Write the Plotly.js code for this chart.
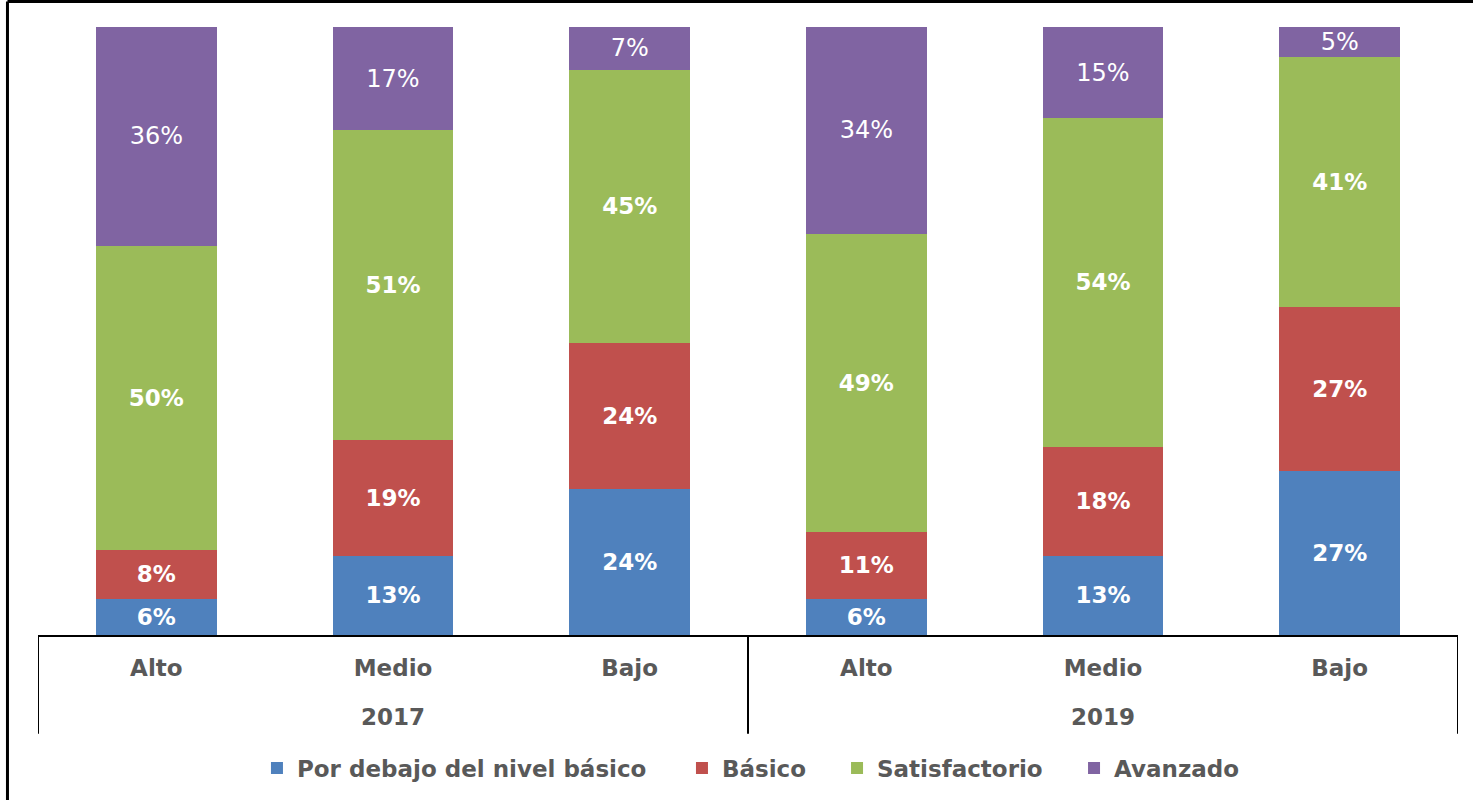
<!DOCTYPE html>
<html>
<head>
<meta charset="utf-8">
<script src="https://cdn.plot.ly/plotly-3.0.1.min.js"></script>
<style>html,body{margin:0;padding:0;background:#fff;}#chart{width:1473px;height:800px;}</style>
</head>
<body>
<div id="chart"></div>
<script>
const years = ["2017","2017","2017","2019","2019","2019"];
const levels = ["Alto","Medio","Bajo","Alto","Medio","Bajo"];
const seriesNames = ["Por debajo del nivel básico","Básico","Satisfactorio","Avanzado"];
const porDebajo = [6, 13, 24, 6, 13, 27];
const basico = [8, 19, 24, 11, 18, 27];
const satisfactorio = [50, 51, 45, 49, 54, 41];
const avanzado = [36, 17, 7, 34, 15, 5];
const colors = ["#4F81BD","#C0504D","#9BBB59","#8064A2"];
const labelWeights = ["bold","bold","bold","normal"];
const labelSizes = [23, 23, 23, 24];
const legendIds = ["legend","legend2","legend3","legend4"];
const legendX = [0.1542, 0.4535, 0.5627, 0.7296];

// unique category keys built from the two levels
const cats = years.map((y, i) => y + " " + levels[i]);
const seriesValues = [porDebajo, basico, satisfactorio, avanzado];
const traces = seriesValues.map((vals, i) => ({
  type: "bar",
  name: seriesNames[i],
  legend: legendIds[i],
  x: cats,
  y: vals,
  marker: {color: colors[i], line: {width: 0}},
  text: vals.map(v => v + "%"),
  textposition: "inside",
  insidetextanchor: "middle",
  textangle: 0,
  constraintext: "none",
  textfont: {family: "DejaVu Sans", size: labelSizes[i], color: "#ffffff", weight: labelWeights[i]},
  hoverinfo: "skip"
}));

// group (year) labels and dividers derived from the categories
const groups = [];
years.forEach((y, i) => {
  const g = groups.find(o => o.name === y);
  if (g) g.last = i; else groups.push({name: y, first: i, last: i});
});
const font = {family: "DejaVu Sans", size: 23, color: "#595959", weight: "bold"};
const annotations = groups.map(g => ({
  xref: "x", yref: "paper", x: (g.first + g.last) / 2, y: -0.1346,
  text: g.name, showarrow: false, xanchor: "center", yanchor: "middle", font: font
}));
const dividerPos = [groups[0].first - 0.5].concat(groups.map(g => g.last + 0.5));
const shapes = dividerPos.map(p => ({
  type: "line", xref: "x", yref: "paper", x0: p, x1: p, y0: 0, y1: -0.1626,
  line: {color: "#000000", width: 2}
}));
shapes.push(
  {type: "line", xref: "paper", yref: "paper", x0: -0.0215, x1: -0.0215, y0: -0.5, y1: 1.042, line: {color: "#000", width: 3}},
  {type: "line", xref: "paper", yref: "paper", x0: -0.0215, x1: 1.2, y0: 1.042, y1: 1.042, line: {color: "#000", width: 3}}
);

const layout = {
  barmode: "stack",
  bargap: 0.49,
  width: 1473, height: 800,
  margin: {l: 38, r: 15, t: 27, b: 164},
  paper_bgcolor: "#ffffff",
  plot_bgcolor: "#ffffff",
  showlegend: true,
  xaxis: {
    type: "category",
    range: [-0.5, cats.length - 0.5],
    tickvals: cats, ticktext: levels,
    showline: true, linecolor: "#000000", linewidth: 2,
    ticks: "", ticklabelstandoff: 11,
    tickfont: font, fixedrange: true
  },
  yaxis: {range: [0, 100], visible: false, showgrid: false, zeroline: false, fixedrange: true},
  annotations: annotations,
  shapes: shapes
};
legendIds.forEach((id, i) => {
  layout[id] = {orientation: "h", x: legendX[i], xanchor: "left", y: -0.2167, yanchor: "middle",
    font: {family: "DejaVu Sans", size: 23, color: "#595959", weight: "bold"},
    bgcolor: "rgba(0,0,0,0)", borderwidth: 0};
});

Plotly.newPlot("chart", traces, layout, {displayModeBar: false, staticPlot: true});
</script>
</body>
</html>
